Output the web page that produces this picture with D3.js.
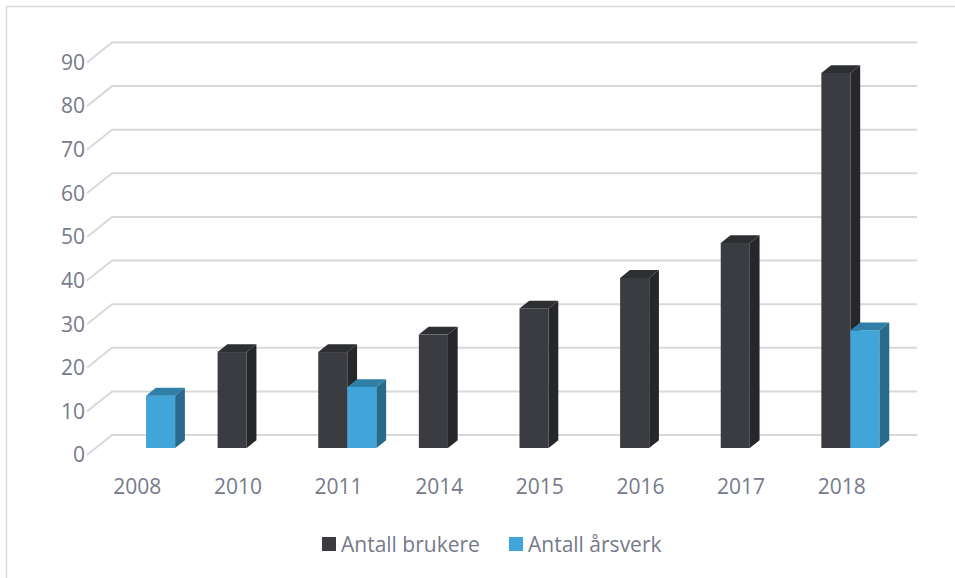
<!DOCTYPE html>
<html>
<head>
<meta charset="utf-8">
<script src="https://cdn.jsdelivr.net/npm/d3@7"></script>
<style>
  body { margin: 0; background: #fff; }
  svg text { font-family: "Open Sans", sans-serif; fill: #767a8b; }
</style>
</head>
<body>
<svg id="chart" width="955" height="578"></svg>
<script>
// Data
const years = ["2008", "2010", "2011", "2014", "2015", "2016", "2017", "2018"];
const brukere = [null, 22, 22, 26, 32, 39, 47, 86];
const arsverk = [12, null, 14, null, null, null, null, 27];
const yTicks = [0, 10, 20, 30, 40, 50, 60, 70, 80, 90];
const seriesNames = ["Antall brukere", "Antall årsverk"];

const colors = {
    "Antall brukere": { front: "#3b3c41", top: "#2e2f33", side: "#26272b" },
    "Antall årsverk": { front: "#42a5d9", top: "#2f7fa8", side: "#286a8b" }
};

const svg = d3.select("#chart");

// chart border (top + left visible)
svg.append("path")
    .attr("d", "M6.5,578 L6.5,6.5 L955,6.5")
    .attr("fill", "none")
    .attr("stroke", "#d9d9d9")
    .attr("stroke-width", 1.5);

// front plane scales
const x0 = d3.scaleBand()
    .domain(years)
    .range([87, 892]);

const x1 = d3.scaleBand()
    .domain(seriesNames)
    .range([0, x0.bandwidth()])
    .paddingOuter(0.73);

const y = d3.scaleLinear()
    .domain([0, 90])
    .range([455, 62.5]);

// depth of the floor (front -> back wall)
const depth = { dx: 25, dy: -20 };
const barStart = 0.35, barEnd = 0.74; // bar depth as fraction of floor depth

// gridlines: diagonal on the side wall + line on the back wall
const grid = svg.append("g").attr("class", "grid");
yTicks.forEach(t => {
    const yf = y(t);
    grid.append("path")
        .attr("d", `M${x0.range()[0]},${yf} L${x0.range()[0] + depth.dx},${yf + depth.dy} L${x0.range()[1] + depth.dx},${yf + depth.dy}`)
        .attr("fill", "none")
        .attr("stroke", "#d9d9d9")
        .attr("stroke-width", 2);
});

// y axis labels
svg.append("g")
    .selectAll("text")
    .data(yTicks)
    .join("text")
    .attr("x", 85)
    .attr("y", d => y(d))
    .attr("dy", "0.35em")
    .attr("text-anchor", "end")
    .style("font-size", "21px")
    .text(d => d);

// x axis labels
svg.append("g")
    .selectAll("text")
    .data(years)
    .join("text")
    .attr("x", d => x0(d) + x0.bandwidth() / 2)
    .attr("y", 494)
    .attr("text-anchor", "middle")
    .style("font-size", "21px")
    .text(d => d);

// bars, left to right
const bars = [];
years.forEach((yr, i) => {
    bars.push({ year: yr, name: "Antall brukere", value: brukere[i] });
    bars.push({ year: yr, name: "Antall årsverk", value: arsverk[i] });
});

const ox = depth.dx * barStart, oy = depth.dy * barStart;
const bdx = depth.dx * (barEnd - barStart), bdy = depth.dy * (barEnd - barStart);

const barG = svg.append("g").attr("class", "bars");
bars.filter(d => d.value != null).forEach(d => {
    const c = colors[d.name];
    const xl = x0(d.year) + x1(d.name) + ox;
    const w = x1.bandwidth();
    const yt = y(d.value) + oy;
    const yb = y(0) + oy;
    const g = barG.append("g");

    g.append("rect")
        .attr("x", xl)
        .attr("y", yt)
        .attr("width", w)
        .attr("height", yb - yt)
        .attr("fill", c.front);

    g.append("polygon")
        .attr("points", [[xl, yt], [xl + w, yt], [xl + w + bdx, yt + bdy], [xl + bdx, yt + bdy]].join(" "))
        .attr("fill", c.top);

    g.append("polygon")
        .attr("points", [[xl + w, yt], [xl + w + bdx, yt + bdy], [xl + w + bdx, yb + bdy], [xl + w, yb]].join(" "))
        .attr("fill", c.side);
});

// legend
const legend = svg.append("g").attr("class", "legend");
const legendX = [322, 509];
seriesNames.forEach((s, i) => {
    legend.append("rect")
        .attr("x", legendX[i])
        .attr("y", 537)
        .attr("width", 14)
        .attr("height", 14)
        .attr("fill", colors[s].front);
    legend.append("text")
        .attr("x", legendX[i] + 19)
        .attr("y", 552)
        .style("font-size", "21px")
        .text(s);
});
</script>
</body>
</html>
